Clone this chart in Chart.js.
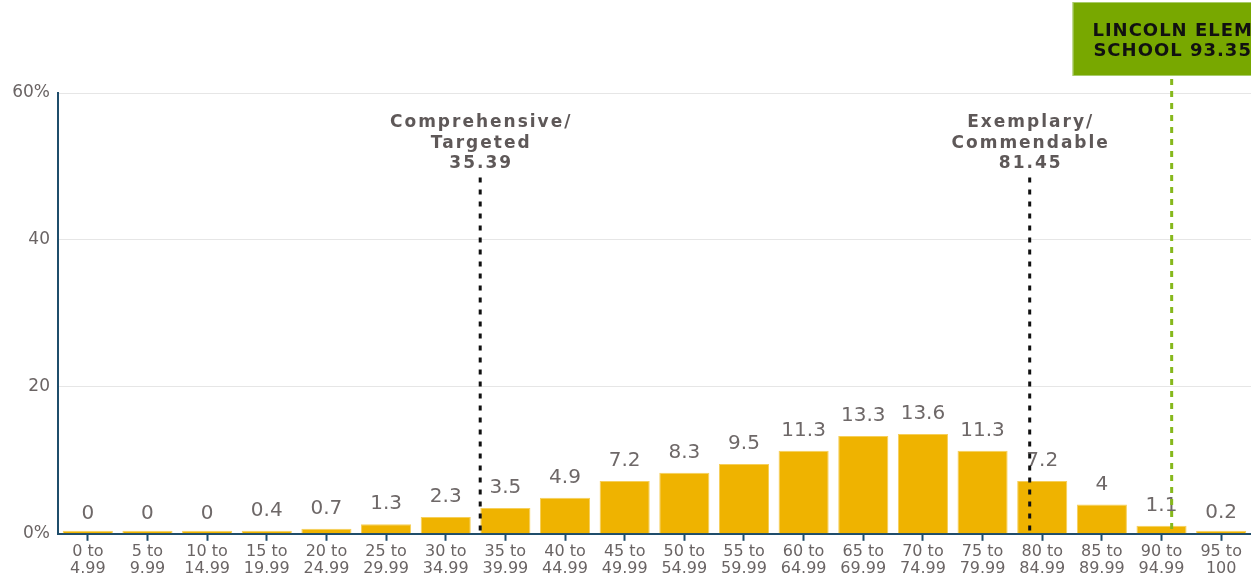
<!DOCTYPE html>
<html>
<head>
<meta charset="utf-8">
<script src="https://cdn.jsdelivr.net/npm/chart.js@4.4.1/dist/chart.umd.min.js"></script>
<style>
html, body { margin: 0; padding: 0; background: #fff; }
#wrap { width: 1251px; height: 580px; position: relative; }
</style>
</head>
<body>
<div id="wrap"><canvas id="chart"></canvas></div>
<script>
// score bands and share of schools (%)
var bands = [["0 to","4.99"],["5 to","9.99"],["10 to","14.99"],["15 to","19.99"],["20 to","24.99"],
             ["25 to","29.99"],["30 to","34.99"],["35 to","39.99"],["40 to","44.99"],["45 to","49.99"],
             ["50 to","54.99"],["55 to","59.99"],["60 to","64.99"],["65 to","69.99"],["70 to","74.99"],
             ["75 to","79.99"],["80 to","84.99"],["85 to","89.99"],["90 to","94.99"],["95 to","100"]];
var shares = [0, 0, 0, 0.4, 0.7, 1.3, 2.3, 3.5, 4.9, 7.2, 8.3, 9.5, 11.3, 13.3, 13.6, 11.3, 7.2, 4, 1.1, 0.2];
var yTicks = [0, 20, 40, 60];

// cut-off markers (score on a 0-100 scale)
var cutLabels = [["Comprehensive/", "Targeted", "35.39"], ["Exemplary/", "Commendable", "81.45"]];
var cutScores = [35.39, 81.45];
var cutTops = [48.5, 48.5];
var schoolName = ["LINCOLN ELEM", "SCHOOL 93.35"];
var schoolScore = 93.35;
var schoolTop = 61.9;

var font = "'DejaVu Sans', sans-serif";

// labels over bars (drawn before datasets so the marker lines sit on top)
var barLabels = {
    id: "barLabels",
    beforeDatasetsDraw: function (chart) {
        var ctx = chart.ctx;
        var meta = chart.getDatasetMeta(0);
        ctx.save();
        ctx.font = "20px " + font;
        ctx.fillStyle = "#6e6868";
        ctx.textAlign = "center";
        ctx.textBaseline = "middle";
        meta.data.forEach(function (bar, i) {
            var yTop = chart.scales.y.getPixelForValue(shares[i]);
            ctx.fillText(String(shares[i]), bar.x, yTop - 20);
        });
        ctx.restore();
    }
};

// marker titles and school box
var markerText = {
    id: "markerText",
    afterDatasetsDraw: function (chart) {
        var ctx = chart.ctx;
        var xs = chart.scales.xs;
        ctx.save();
        ctx.textAlign = "center";
        ctx.textBaseline = "middle";
        ctx.font = "bold 17px " + font;
        ctx.letterSpacing = "2px";
        ctx.fillStyle = "#5e5858";
        cutScores.forEach(function (s, k) {
            var x = xs.getPixelForValue(s);
            cutLabels[k].forEach(function (t, j) {
                ctx.fillText(t, x + 1, 123 + j * 20.5);
            });
        });
        var sx = xs.getPixelForValue(schoolScore);
        ctx.fillStyle = "#78a800";
        ctx.fillRect(sx - 99, 2, 198, 74);
        ctx.strokeStyle = "#a9cc6a";
        ctx.lineWidth = 1;
        ctx.strokeRect(sx - 98.5, 2.5, 197, 73);
        ctx.fillStyle = "#111";
        ctx.font = "bold 18px " + font;
        ctx.letterSpacing = "1px";
        ctx.fillText(schoolName[0], sx + 1, 31);
        ctx.fillText(schoolName[1], sx + 1, 51);
        ctx.restore();
    }
};

function markerLine(score, top, color, dash) {
    return {
        type: "line",
        xAxisID: "xs",
        data: [{x: score, y: top}, {x: score, y: 0}],
        borderColor: color,
        borderWidth: 3,
        borderDash: dash,
        pointRadius: 0,
        clip: false,
        order: 0
    };
}

new Chart(document.getElementById("chart"), {
    type: "bar",
    data: {
        labels: bands,
        datasets: [
            {
                data: shares,
                backgroundColor: "#efb300",
                borderColor: "#f6cf5a",
                borderWidth: 1,
                borderSkipped: "bottom",
                minBarLength: 3,
                barPercentage: 0.84,
                categoryPercentage: 1,
                grouped: false,
                order: 1
            },
            markerLine(cutScores[0], cutTops[0], "#111", [5, 7]),
            markerLine(cutScores[1], cutTops[1], "#111", [5, 7]),
            markerLine(schoolScore, schoolTop, "#86b81c", [6, 6])
        ]
    },
    options: {
        responsive: true,
        maintainAspectRatio: false,
        animation: false,
        layout: { padding: { top: 93, right: 0, left: 0, bottom: 0 } },
        plugins: { legend: { display: false }, tooltip: { enabled: false } },
        scales: {
            x: {
                grid: { display: true, offset: false, drawOnChartArea: false, drawTicks: true, tickLength: 7, color: "#1f4d6b", tickWidth: 2 },
                border: { color: "#1f4d6b", width: 2 },
                ticks: { color: "#6a6464", font: { family: font, size: 16, lineHeight: 1.1 }, padding: 2, maxRotation: 0, autoSkip: false }
            },
            xs: {
                type: "linear",
                display: false,
                offset: false,
                min: 0,
                max: 100
            },
            y: {
                min: 0,
                max: 60,
                afterFit: function (axis) { axis.width = 58; },
                afterBuildTicks: function (axis) {
                    axis.ticks = yTicks.map(function (v) { return { value: v }; });
                },
                grid: { color: "#e6e6e6", drawTicks: false, lineWidth: 1 },
                border: { color: "#1f4d6b", width: 2 },
                ticks: {
                    color: "#6a6464",
                    font: { family: font, size: 17 },
                    padding: 8,
                    callback: function (v) { return (v === 0 || v === 60) ? v + "%" : String(v); }
                }
            }
        }
    },
    plugins: [barLabels, markerText]
});
</script>
</body>
</html>
